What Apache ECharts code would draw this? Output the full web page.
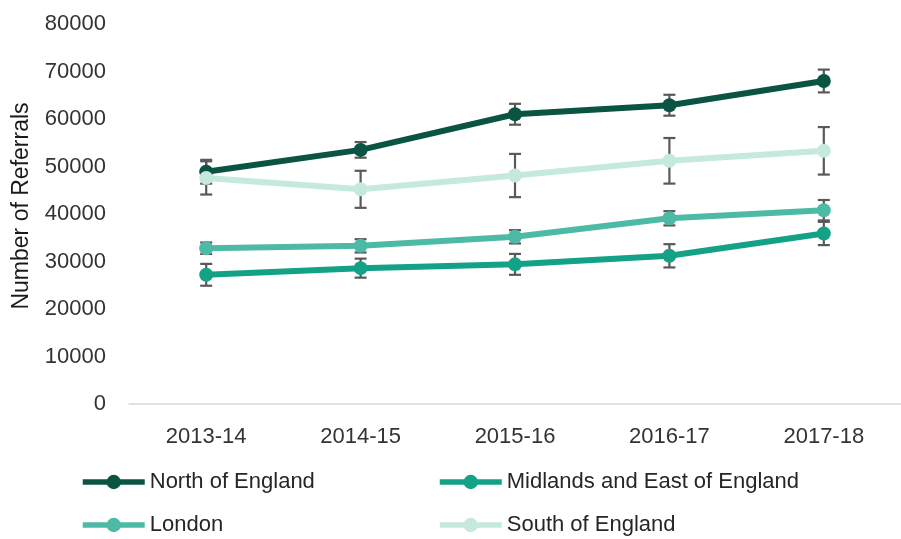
<!DOCTYPE html>
<html>
<head>
<meta charset="utf-8">
<script src="https://cdn.jsdelivr.net/npm/echarts@6/dist/echarts.min.js"></script>
<style>html,body{margin:0;padding:0;background:#fff;}#c{width:901px;height:539px;}</style>
</head>
<body>
<div id="c"></div>
<script>
const categories = ['2013-14', '2014-15', '2015-16', '2016-17', '2017-18'];
const north = [48900, 53500, 61000, 62900, 68000];
const northErr = [2500, 1650, 2200, 2200, 2400];
const midlands = [27200, 28600, 29400, 31200, 35900];
const midlandsErr = [2300, 2000, 2200, 2450, 2450];
const london = [32800, 33300, 35200, 39100, 40800];
const londonErr = [1200, 1400, 1400, 1500, 2150];
const south = [47600, 45200, 48100, 51200, 53300];
const southErr = [3500, 3900, 4550, 4800, 5000];
const yTicks = { min: 0, max: 80000, interval: 10000 };

const FONT = "'Liberation Sans', Arial, sans-serif";
const seriesDefs = [
  { name: 'North of England', values: north, err: northErr, color: '#0b5444' },
  { name: 'Midlands and East of England', values: midlands, err: midlandsErr, color: '#13a286' },
  { name: 'London', values: london, err: londonErr, color: '#4dbaa5' },
  { name: 'South of England', values: south, err: southErr, color: '#c5e8df' }
];

function errorSeries(def) {
  return {
    type: 'custom',
    name: def.name + ' err',
    z: 1,
    silent: true,
    data: def.values.map((v, i) => [i, v - def.err[i], v + def.err[i]]),
    renderItem: function (params, api) {
      const lo = api.coord([api.value(0), api.value(1)]);
      const hi = api.coord([api.value(0), api.value(2)]);
      const hw = 6;
      const st = { stroke: '#595959', lineWidth: 2.2 };
      return {
        type: 'group',
        children: [
          { type: 'line', shape: { x1: lo[0], y1: lo[1], x2: hi[0], y2: hi[1] }, style: st },
          { type: 'line', shape: { x1: lo[0] - hw, y1: lo[1], x2: lo[0] + hw, y2: lo[1] }, style: st },
          { type: 'line', shape: { x1: hi[0] - hw, y1: hi[1], x2: hi[0] + hw, y2: hi[1] }, style: st }
        ]
      };
    }
  };
}

const lineSeries = seriesDefs.map(d => ({
  type: 'line',
  name: d.name,
  data: d.values,
  z: 3,
  symbol: 'circle',
  symbolSize: 14,
  color: d.color,
  lineStyle: { width: 6, color: d.color },
  itemStyle: { color: d.color },
  emphasis: { disabled: true }
}));

const legendPos = [
  { left: 80, top: 471 },
  { left: 437, top: 471 },
  { left: 80, top: 514 },
  { left: 437, top: 514 }
];

const legends = seriesDefs.map((d, i) => ({
  data: [d.name],
  left: legendPos[i].left,
  top: legendPos[i].top,
  padding: 0,
  itemWidth: 62,
  itemHeight: 18,
  itemGap: 0,
  selectedMode: false,
  lineStyle: { width: 5.5 },
  textStyle: { fontFamily: FONT, fontSize: 22, color: '#262626', padding: [0, 0, 0, 0] }
}));

const chart = echarts.init(document.getElementById('c'), null, { renderer: 'canvas' });
chart.setOption({
  animation: false,
  backgroundColor: '#ffffff',
  grid: { left: 129, top: 24, width: 781, height: 380, containLabel: false },
  legend: legends,
  xAxis: {
    type: 'category',
    data: categories,
    boundaryGap: true,
    axisLine: { show: true, lineStyle: { color: '#d9d9d9', width: 1.5 } },
    axisTick: { show: false },
    axisLabel: { fontFamily: FONT, fontSize: 22, color: '#333333', margin: 22 }
  },
  yAxis: {
    type: 'value',
    min: yTicks.min,
    max: yTicks.max,
    interval: yTicks.interval,
    name: 'Number of Referrals',
    nameLocation: 'middle',
    nameRotate: 90,
    nameGap: 96,
    nameTextStyle: { fontFamily: FONT, fontSize: 23, color: '#1a1a1a', padding: [0, 0, 0, 16] },
    axisLine: { show: false },
    axisTick: { show: false },
    splitLine: { show: false },
    axisLabel: { fontFamily: FONT, fontSize: 22, color: '#333333', margin: 23, formatter: v => String(v) }
  },
  series: seriesDefs.map(errorSeries).concat(lineSeries)
});
</script>
</body>
</html>
